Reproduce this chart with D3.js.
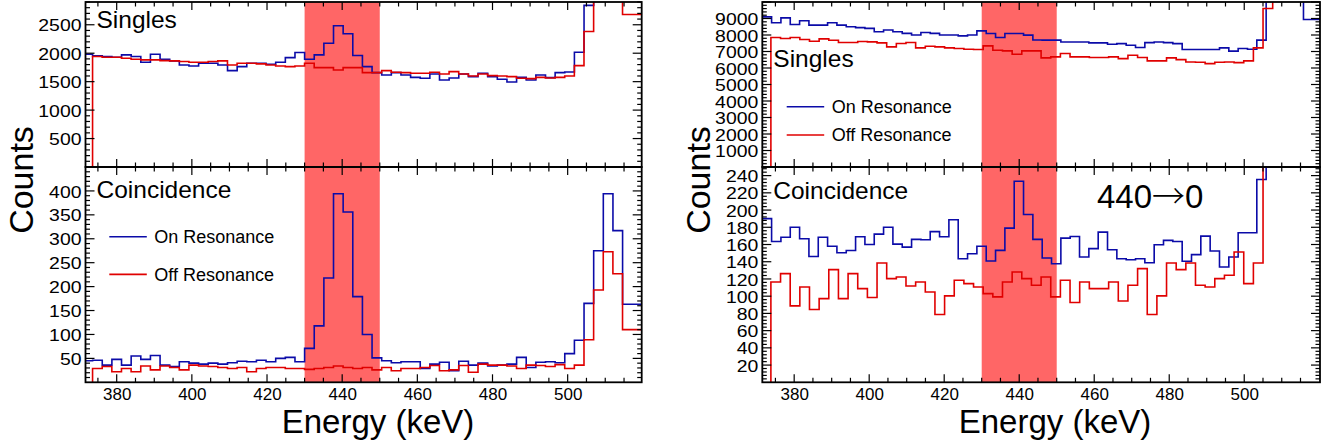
<!DOCTYPE html>
<html>
<head>
<meta charset="utf-8">
<script src="https://cdn.jsdelivr.net/npm/d3@7"></script>
<style>
  body { margin: 0; background: #fff; }
  svg { display: block; }
  text { font-family: "Liberation Sans", Arial, Helvetica, sans-serif; fill: #000; }
</style>
</head>
<body>
<svg id="fig" width="1335" height="445"></svg>
<script>
// ---- Gate window (keV) ----
const bandLow = 430, bandHigh = 450;

// ---- Left figure: histogram binning (keV) ----
const leftOnStart = 371.03, leftOffStart = 373.58, leftBinWidth = 2.564;

// Singles, on resonance
const leftSinglesOn = [1982, 1953, 1941, 1929, 1970, 1941, 1841, 1982, 1894, 1865,
  1794, 1776, 1823, 1823, 1794, 1694, 1765, 1823, 1823, 1806,
  1841, 1923, 2012, 1894, 1970, 2176, 2482, 2341, 1959, 1765,
  1659, 1618, 1659, 1618, 1576, 1559, 1635, 1529, 1565, 1635,
  1588, 1647, 1588, 1541, 1494, 1576, 1529, 1618, 1570, 1659,
  1671, 2018, 2841, 4300, 6100, 5200, 3600, 3100];
// Singles, off resonance
const leftSinglesOff = [1941, 1929, 1929, 1912, 1894, 1882, 1882, 1870, 1865,
  1853, 1841, 1841, 1853, 1865, 1794, 1823, 1823, 1812, 1794,
  1776, 1765, 1776, 1823, 1747, 1747, 1706, 1747, 1747, 1659,
  1659, 1694, 1665, 1659, 1647, 1647, 1665, 1635, 1676, 1635,
  1600, 1635, 1606, 1600, 1588, 1559, 1553, 1576, 1565, 1576,
  1600, 1782, 2382, 3300, 4000, 3500, 2680, 2680];
// Coincidence, on resonance
const leftCoincOn = [45, 46, 36, 48, 36, 55, 48, 56, 36, 33,
  43, 40, 38, 40, 38, 41, 44, 43, 46, 43,
  50, 52, 43, 71, 118, 218, 394, 356, 179, 100,
  51, 45, 41, 43, 43, 29, 38, 42, 24, 44,
  36, 40, 34, 36, 38, 52, 31, 42, 43, 41,
  60, 88, 165, 275, 394, 317, 163, 163];
// Coincidence, off resonance
const leftCoincOff = [29, 33, 22, 29, 22, 34, 26, 34, 31,
  26, 36, 34, 33, 31, 29, 31, 22, 29, 31,
  31, 29, 29, 27, 29, 31, 34, 31, 29, 31,
  26, 31, 24, 29, 29, 31, 35, 24, 26, 35,
  21, 38, 36, 36, 34, 29, 36, 35, 33, 37,
  29, 36, 89, 193, 273, 227, 110, 110];

// ---- Right figure: histogram binning (keV) ----
const rightOnStart = 371.49, rightOnWidth = 2.488;
const rightOffStart = 373.79, rightOffWidth = 2.573;

const rightSinglesOn = [9100, 8740, 9040, 8640, 8860, 8600, 8600, 8740, 8600, 8500,
  8450, 8400, 8200, 8300, 8200, 8100, 8000, 8150, 8100, 8000,
  8000, 7950, 8000, 8250, 8090, 7850, 8090, 8090, 7990, 7700,
  7690, 7690, 7580, 7580, 7580, 7520, 7520, 7440, 7480, 7380,
  7240, 7540, 7580, 7540, 7480, 7120, 7120, 7120, 7120, 7220,
  7020, 7180, 7140, 7690, 12000, 14000, 13000, 11000, 8940, 8940];
const rightSinglesOff = [7847, 7790, 7847, 7725, 7624, 7766, 7685, 7543, 7543, 7604,
  7584, 7523, 7280, 7482, 7543, 7219, 7320, 7280, 7219, 7178,
  7138, 7118, 7340, 7077, 7037, 6834, 7037, 7037, 6612, 6672,
  6875, 6672, 6672, 6632, 6632, 6672, 6571, 6773, 6632, 6429,
  6429, 6612, 6510, 6368, 6348, 6267, 6348, 6368, 6328, 6429,
  7219, 9610, 13000, 15000, 14000, 12000, 11000];
const rightCoincOn = [190, 163.5, 168.5, 180, 166.7, 146, 168.5, 158, 150.4, 153,
  169, 160, 172, 180, 160.5, 157, 166, 165.6, 175, 169,
  188.7, 143.5, 149.3, 158, 140.8, 153.2, 179, 233.4, 194.8, 166,
  144.3, 137.7, 167.4, 169.3, 145.5, 155.2, 174.4, 154, 143.5, 142.3,
  143.5, 138.8, 159.7, 164.8, 163.5, 140.5, 148.2, 169.7, 152.4, 133.9,
  145.5, 173.6, 173.6, 235.4, 320, 420, 400, 340, 300, 280];
const rightCoincOff = [116.4, 126.2, 88.7, 110.7, 84.5, 97.2, 130.8, 97.2, 126.2, 108.8,
  98.4, 138.5, 120.4, 122.3, 111.9, 116.4, 104.9, 78.7, 100.3, 118.5,
  114.6, 110.7, 103, 99.2, 116.4, 128.1, 120.4, 112.7, 122.3, 99.2,
  118.5, 92.6, 116.4, 108.8, 108.8, 116.4, 94.4, 112.7, 132, 78.7,
  100.3, 138.5, 130.8, 138.5, 112.7, 110.7, 120.4, 124.3, 151.3, 114.6,
  138.5, 300, 420, 380, 330, 300, 280];

// ---- Axis ticks ----
const energyTicks = [380, 400, 420, 440, 460, 480, 500];
const leftSinglesTicks = [500, 1000, 1500, 2000, 2500];
const leftCoincTicks = [50, 100, 150, 200, 250, 300, 350, 400];
const rightSinglesTicks = [1000, 2000, 3000, 4000, 5000, 6000, 7000, 8000, 9000];
const rightCoincTicks = [20, 40, 60, 80, 100, 120, 140, 160, 180, 200, 220, 240];

const seriesNames = ["On Resonance", "Off Resonance"];

// ---- Styling ----
const colOn = "#0b0ba8";
const colOff = "#e00000";
const colBand = "#ff6666";
const fontFam = '"Liberation Sans", Arial, Helvetica, sans-serif';

const svg = d3.select("#fig");
let clipId = 0;

// Build the outline of a stepped histogram from bin edges and counts
function histPoints(start, width, counts) {
  const pts = [[start, 0]];
  counts.forEach((c, i) => {
    pts.push([start + i * width, c]);
    pts.push([start + (i + 1) * width, c]);
  });
  return pts;
}

function drawPanel(g, opt) {
  const { x, y, x0, x1, y0, y1 } = opt;
  const id = "clip" + (clipId++);
  g.append("clipPath").attr("id", id)
    .append("rect").attr("x", x0).attr("y", y1).attr("width", x1 - x0).attr("height", y0 - y1);

  const plot = g.append("g").attr("clip-path", `url(#${id})`);
  const line = d3.line().x(d => x(d[0])).y(d => y(d[1]));
  opt.series.forEach(s => {
    plot.append("path")
      .attr("d", line(histPoints(s.start, s.width, s.counts)))
      .attr("fill", "none")
      .attr("stroke", s.color)
      .attr("stroke-width", 1.6)
      .attr("stroke-linejoin", "miter");
  });

  // Y axis ticks on both sides, pointing inward
  const yMinor = d3.range(opt.minorStep, opt.yMax + 1e-9, opt.minorStep);
  const yMajor = d3.range(opt.majorStep, opt.yMax + 1e-9, opt.majorStep);
  const tickG = g.append("g").attr("stroke", "#000").attr("stroke-width", 1.2);
  yMinor.forEach(v => {
    const major = yMajor.some(m => Math.abs(m - v) < 1e-6);
    const len = major ? 9 : 4.5;
    tickG.append("line").attr("x1", x0).attr("x2", x0 + len).attr("y1", y(v)).attr("y2", y(v));
    tickG.append("line").attr("x1", x1).attr("x2", x1 - len).attr("y1", y(v)).attr("y2", y(v));
  });

  // Y tick labels through a left axis
  const yAxis = d3.axisLeft(y).tickValues(opt.yTicks).tickSize(0).tickPadding(0)
    .tickFormat(d3.format("d"));
  const ya = g.append("g").attr("transform", `translate(${x0 - 4},0)`).call(yAxis);
  ya.select(".domain").remove();
  ya.selectAll("text").attr("font-size", 17).attr("font-family", fontFam)
    .attr("dy", "0.36em").attr("fill", "#000")
    .attr("textLength", d => String(d).length * 10.8).attr("lengthAdjust", "spacingAndGlyphs");

  // X ticks top and bottom, pointing inward
  const xMinor = d3.range(375, 520, 5);
  xMinor.forEach(v => {
    const major = v % 20 === 0;
    const len = major ? 8 : 4.5;
    tickG.append("line").attr("x1", x(v)).attr("x2", x(v)).attr("y1", y0).attr("y2", y0 - len);
    tickG.append("line").attr("x1", x(v)).attr("x2", x(v)).attr("y1", y1).attr("y2", y1 + len);
  });

  // Frame
  g.append("rect").attr("x", x0).attr("y", y1).attr("width", x1 - x0).attr("height", y0 - y1)
    .attr("fill", "none").attr("stroke", "#000").attr("stroke-width", 1.8);
}

function drawFigure(cfg) {
  const g = svg.append("g");
  const x = d3.scaleLinear().domain(cfg.xDomain).range([cfg.x0, cfg.x1]);
  const yTop = d3.scaleLinear().domain([0, cfg.topMax]).range([cfg.yMid, cfg.yTop]);
  const yBot = d3.scaleLinear().domain([0, cfg.botMax]).range([cfg.yBot, cfg.yMid]);

  // Gate window spanning both panels
  g.append("rect")
    .attr("x", x(bandLow)).attr("width", x(bandHigh) - x(bandLow))
    .attr("y", cfg.yTop).attr("height", cfg.yBot - cfg.yTop)
    .attr("fill", colBand);

  drawPanel(g, {
    x, y: yTop, x0: cfg.x0, x1: cfg.x1, y0: cfg.yMid, y1: cfg.yTop,
    series: cfg.topSeries, yTicks: cfg.topTicks, majorStep: cfg.topMajor,
    minorStep: cfg.topMinor, yMax: cfg.topMax
  });
  drawPanel(g, {
    x, y: yBot, x0: cfg.x0, x1: cfg.x1, y0: cfg.yBot, y1: cfg.yMid,
    series: cfg.botSeries, yTicks: cfg.botTicks, majorStep: cfg.botMajor,
    minorStep: cfg.botMinor, yMax: cfg.botMax
  });

  // Energy tick labels
  const xAxis = d3.axisBottom(x).tickValues(energyTicks).tickSize(0).tickPadding(0)
    .tickFormat(d3.format("d"));
  const xa = g.append("g").attr("transform", `translate(0,${cfg.yBot + 6})`).call(xAxis);
  xa.select(".domain").remove();
  xa.selectAll("text").attr("font-size", 17).attr("font-family", fontFam)
    .attr("dy", "0.71em").attr("fill", "#000");

  // Axis titles
  g.append("text").attr("x", cfg.xTitleX).attr("y", 433)
    .attr("text-anchor", "middle").attr("font-size", 33).text("Energy (keV)");
  g.append("text")
    .attr("transform", `translate(${cfg.yTitleX},180) rotate(-90)`)
    .attr("text-anchor", "middle").attr("font-size", 34).text("Counts");

  // Panel captions
  g.append("text").attr("x", cfg.x0 + 11).attr("y", cfg.singlesY)
    .attr("font-size", 24.5).text("Singles");
  g.append("text").attr("x", cfg.x0 + 11).attr("y", cfg.coincY)
    .attr("font-size", 24.5).text("Coincidence");

  // Legend
  const lg = g.append("g");
  seriesNames.forEach((name, i) => {
    const ly = cfg.legendY + i * cfg.legendGap;
    lg.append("line").attr("x1", cfg.legendX).attr("x2", cfg.legendX + 37.5)
      .attr("y1", ly).attr("y2", ly)
      .attr("stroke", i === 0 ? colOn : colOff).attr("stroke-width", 1.6);
    lg.append("text").attr("x", cfg.legendX + 45).attr("y", ly + 6.2)
      .attr("font-size", 18).text(name);
  });
  return { g, x, yTop, yBot };
}

drawFigure({
  xDomain: [371.7, 519.7], x0: 85.5, x1: 641.7,
  yTop: 2, yMid: 167, yBot: 382.3,
  topMax: 2900, topMajor: 500, topMinor: 100, topTicks: leftSinglesTicks,
  botMax: 450, botMajor: 50, botMinor: 10, botTicks: leftCoincTicks,
  topSeries: [
    { start: leftOnStart, width: leftBinWidth, counts: leftSinglesOn, color: colOn },
    { start: leftOffStart, width: leftBinWidth, counts: leftSinglesOff, color: colOff }
  ],
  botSeries: [
    { start: leftOnStart, width: leftBinWidth, counts: leftCoincOn, color: colOn },
    { start: leftOffStart, width: leftBinWidth, counts: leftCoincOff, color: colOff }
  ],
  xTitleX: 378, yTitleX: 33,
  singlesY: 28, coincY: 198,
  legendX: 109.3, legendY: 236.7, legendGap: 37.7
});

const right = drawFigure({
  xDomain: [371.5, 520.2], x0: 762.3, x1: 1320,
  yTop: 2, yMid: 167, yBot: 382.3,
  topMax: 10000, topMajor: 1000, topMinor: 200, topTicks: rightSinglesTicks,
  botMax: 250, botMajor: 20, botMinor: 4, botTicks: rightCoincTicks,
  topSeries: [
    { start: rightOnStart, width: rightOnWidth, counts: rightSinglesOn, color: colOn },
    { start: rightOffStart, width: rightOffWidth, counts: rightSinglesOff, color: colOff }
  ],
  botSeries: [
    { start: rightOnStart, width: rightOnWidth, counts: rightCoincOn, color: colOn },
    { start: rightOffStart, width: rightOffWidth, counts: rightCoincOff, color: colOff }
  ],
  xTitleX: 1055, yTitleX: 710,
  singlesY: 67, coincY: 199,
  legendX: 786.7, legendY: 106.7, legendGap: 28.3
});

// Transition label in the right coincidence panel
const trans = right.g.append("text").attr("x", 1097).attr("y", 208).attr("font-size", 33);
trans.append("tspan").text("440");
trans.append("tspan").attr("font-family", '"Noto Sans CJK SC", "DejaVu Sans", sans-serif')
  .attr("font-weight", 300).text("\u2192");
trans.append("tspan").text("0");
</script>
</body>
</html>
